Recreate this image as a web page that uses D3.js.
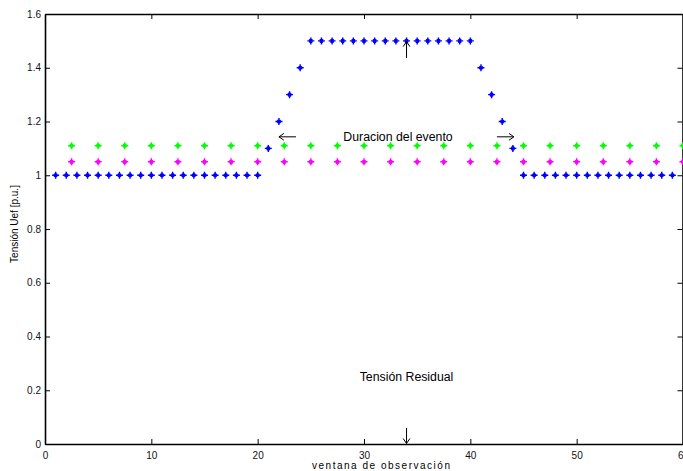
<!DOCTYPE html>
<html>
<head>
<meta charset="utf-8">
<script src="https://cdn.jsdelivr.net/npm/d3@7"></script>
<style>
  html, body { margin: 0; padding: 0; background: #fff; overflow: hidden; }
  svg { display: block; font-family: "Liberation Sans", Arial, Helvetica, sans-serif; }
</style>
</head>
<body>
<svg id="chart" width="683" height="471"></svg>
<script>
// Observation window samples and RMS voltage (p.u.)
const eventX = d3.range(1, 60);           // 1 .. 59
const eventV = [
  1, 1, 1, 1, 1, 1, 1, 1, 1, 1, 1, 1, 1, 1, 1, 1, 1, 1, 1, 1,
  1.1, 1.2, 1.3, 1.4,
  1.5, 1.5, 1.5, 1.5, 1.5, 1.5, 1.5, 1.5, 1.5, 1.5, 1.5, 1.5, 1.5, 1.5, 1.5, 1.5,
  1.4, 1.3, 1.2, 1.1,
  1, 1, 1, 1, 1, 1, 1, 1, 1, 1, 1, 1, 1, 1, 1
];
// Reference thresholds sampled every 2.5
const refX = d3.range(1, 25).map(i => i * 2.5);   // 2.5 .. 60
const upperLimit = refX.map(() => 1.11);
const lowerLimit = refX.map(() => 1.05);

const xTicks = [0, 10, 20, 30, 40, 50, 60];
const yTicks = [0, 0.2, 0.4, 0.6, 0.8, 1, 1.2, 1.4, 1.6];

// Annotation arrows in data coordinates: [x1, y1, x2, y2] (head at x2, y2)
const arrows = [
  [23.6, 1.143, 22.0, 1.143],
  [42.5, 1.143, 44.1, 1.143],
  [34, 1.436, 34, 1.497],
  [34, 0.06, 34, 0.002]
];

const svg = d3.select("#chart");
const mLeft = 45, mRight = 683, mTop = 14, mBottom = 444;

const x = d3.scaleLinear().domain([0, 60]).range([mLeft, mRight]);
const y = d3.scaleLinear().domain([0, 1.6]).range([mBottom, mTop]);

// Axes with inward ticks
const tickLen = 5;
const gx = svg.append("g").attr("transform", `translate(0,${mBottom})`)
  .call(d3.axisBottom(x).tickValues(xTicks).tickFormat(d3.format("d"))
    .tickSizeInner(-tickLen).tickSizeOuter(0).tickPadding(9));
const gy = svg.append("g").attr("transform", `translate(${mLeft},0)`)
  .call(d3.axisLeft(y).tickValues(yTicks).tickFormat(d => d === 0 || d === 1 ? d3.format("d")(d) : d3.format(".1f")(d))
    .tickSizeInner(-tickLen).tickSizeOuter(0).tickPadding(4));
const gt = svg.append("g").attr("transform", `translate(0,${mTop})`)
  .call(d3.axisTop(x).tickValues(xTicks).tickFormat("").tickSizeInner(-tickLen).tickSizeOuter(0));
const gr = svg.append("g").attr("transform", `translate(${mRight - 0.5},0)`)
  .call(d3.axisRight(y).tickValues(yTicks).tickFormat("").tickSizeInner(-tickLen).tickSizeOuter(0));

[gx, gy, gt, gr].forEach(g => {
  g.select(".domain").attr("stroke", "#000").attr("stroke-width", 1.6);
  g.selectAll(".tick line").attr("stroke", "#000").attr("stroke-width", 1);
  g.selectAll(".tick text").attr("fill", "#111").attr("font-size", "10px")
    .attr("font-family", "'Liberation Sans', Arial, sans-serif");
});
gx.selectAll(".tick text").attr("dy", "0.6em");

// Asterisk marker drawn at a data point
function asterisk(sel, color) {
  const r = 3.5, d = 1.6;
  sel.append("path")
    .attr("d", `M${-r},0H${r}M0,${-r}V${r}M${-d},${-d}L${d},${d}M${-d},${d}L${d},${-d}`)
    .attr("stroke", color)
    .attr("stroke-width", 1.4)
    .attr("fill", "none");
}

const plot = svg.append("g");

function series(xs, ys, color) {
  plot.append("g").selectAll("g")
    .data(xs.map((d, i) => [d, ys[i]]))
    .join("g")
    .attr("transform", d => `translate(${x(d[0])},${y(d[1])})`)
    .call(asterisk, color);
}

series(refX, upperLimit, "#00ff00");
series(refX, lowerLimit, "#ff00ff");
series(eventX, eventV, "#0000ff");

// Arrows with open V heads
const ag = svg.append("g").attr("stroke", "#000").attr("stroke-width", 1).attr("fill", "none");
arrows.forEach(([x1, y1, x2, y2]) => {
  const X1 = x(x1), Y1 = y(y1), X2 = x(x2), Y2 = y(y2);
  const ang = Math.atan2(Y2 - Y1, X2 - X1);
  const h = 6, spread = 0.6;
  ag.append("line").attr("x1", X1).attr("y1", Y1).attr("x2", X2).attr("y2", Y2);
  ag.append("path").attr("d",
    `M${X2 - h * Math.cos(ang - spread)},${Y2 - h * Math.sin(ang - spread)}` +
    `L${X2},${Y2}` +
    `L${X2 - h * Math.cos(ang + spread)},${Y2 - h * Math.sin(ang + spread)}`);
});

// Annotation texts
svg.append("text").attr("x", x(33.2)).attr("y", y(1.143)).attr("dy", "0.35em")
  .attr("text-anchor", "middle").attr("font-size", "12.3px").attr("fill", "#000")
  .text("Duracion del evento");
svg.append("text").attr("x", x(34)).attr("y", y(0.25)).attr("dy", "0.35em")
  .attr("text-anchor", "middle").attr("font-size", "12.3px").attr("fill", "#000")
  .text("Tensión Residual");

// Axis titles
svg.append("text").attr("x", 381).attr("y", 469)
  .attr("text-anchor", "middle").attr("font-size", "10px").attr("fill", "#000")
  .attr("textLength", 138).attr("lengthAdjust", "spacing")
  .text("ventana de observación");
svg.append("text").attr("transform", "translate(18,224) rotate(-90)")
  .attr("text-anchor", "middle").attr("font-size", "10px").attr("fill", "#000")
  .text("Tensión Uef [p.u.]");
</script>
</body>
</html>
